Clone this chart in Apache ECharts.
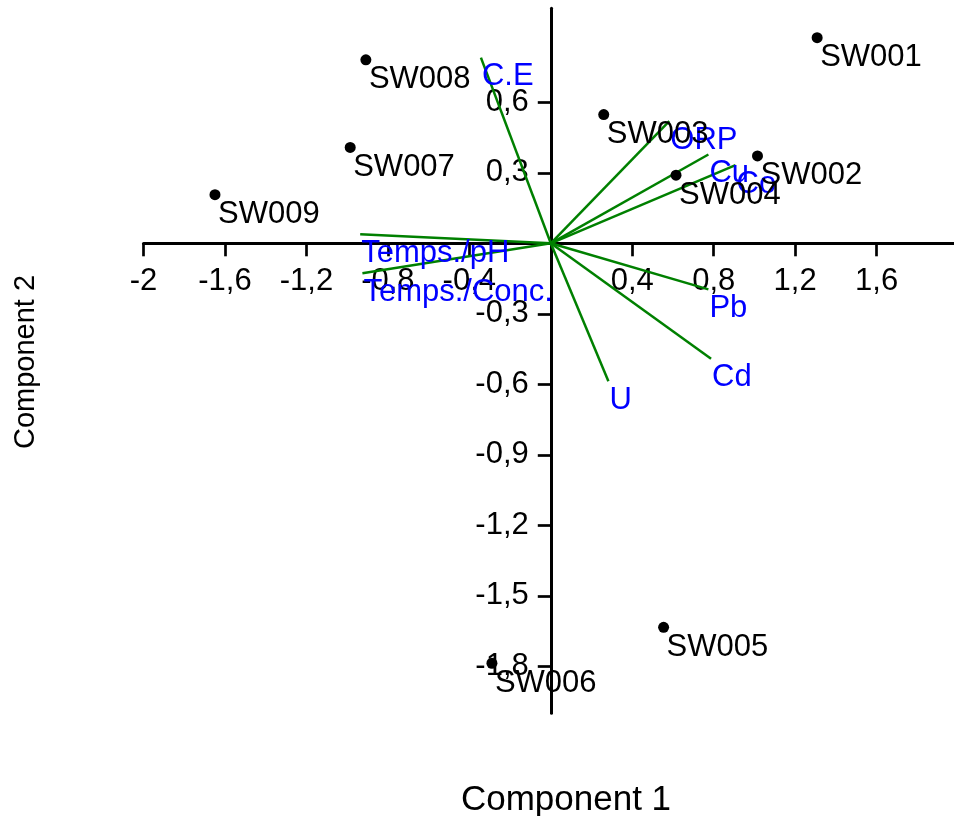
<!DOCTYPE html>
<html><head><meta charset="utf-8">
<script src="https://cdn.jsdelivr.net/npm/echarts@6.0.0/dist/echarts.min.js"></script>
<style>html,body{margin:0;padding:0;background:#fff}#c{width:954px;height:816px}</style>
</head><body><div id="c"></div>
<script>
const sampleNames = ['SW001','SW002','SW003','SW004','SW005','SW006','SW007','SW008','SW009'];
const sampleX = [1.308, 1.015, 0.260, 0.615, 0.554, -0.289, -0.985, -0.908, -1.649];
const sampleY = [0.875, 0.372, 0.548, 0.290, -1.634, -1.787, 0.408, 0.781, 0.207];
const loadingNames = ['C.E','ORP','Cu','Co','Pb','Cd','U','Temps./pH','Temps./Conc.'];
const loadingX = [-0.343, 0.582, 0.774, 0.907, 0.774, 0.787, 0.283, -0.936, -0.925];
const loadingY = [0.790, 0.520, 0.378, 0.333, -0.196, -0.491, -0.587, 0.039, -0.127];
const xTicks = [-2, -1.6, -1.2, -0.8, -0.4, 0.4, 0.8, 1.2, 1.6];
const yTicks = [-1.8, -1.5, -1.2, -0.9, -0.6, -0.3, 0.3, 0.6];
const xTitle = 'Component 1';
const yTitle = 'Component 2';

const FONT = '"Liberation Sans", Arial, sans-serif';
function fmt(v) {
  const r = Math.round(v * 10) / 10;
  return Number.isInteger(r) ? String(r) : r.toFixed(1).replace('.', ',');
}
const axisCommon = {
  type: 'value',
  splitLine: { show: false },
  axisLine: { show: true, onZero: true, lineStyle: { color: '#000', width: 3 } },
  axisTick: { show: true, length: 13, lineStyle: { color: '#000', width: 2.7 } },
  axisLabel: { show: false }
};
const tickLabelStyle = { show: true, color: '#000', fontSize: 31, fontFamily: FONT, opacity: 1 };

const chart = echarts.init(document.getElementById('c'), null, { renderer: 'canvas' });
chart.setOption({
  backgroundColor: '#fff',
  animation: false,
  grid: { left: 143.5, right: 0, top: 8.3, bottom: 102.7, containLabel: false },
  xAxis: Object.assign({}, axisCommon, {
    min: -2, max: 1.98,
    axisTick: Object.assign({}, axisCommon.axisTick, { customValues: xTicks })
  }),
  yAxis: Object.assign({}, axisCommon, {
    min: -2, max: 1,
    axisTick: Object.assign({}, axisCommon.axisTick, { customValues: yTicks })
  }),
  graphic: [
    { type: 'text', x: 566, y: 800, style: { text: xTitle, fontSize: 35, fontFamily: FONT, fill: '#000', textAlign: 'center', textVerticalAlign: 'middle' } },
    { type: 'text', x: 26, y: 362, rotation: Math.PI / 2, style: { text: yTitle, fontSize: 29, fontFamily: FONT, fill: '#000', textAlign: 'center', textVerticalAlign: 'middle' } }
  ],
  series: [
    {
      // x-axis tick labels placed at the zero-crossing axis
      type: 'scatter', silent: true, z: 2, symbolSize: 0,
      itemStyle: { color: 'rgba(0,0,0,0)', opacity: 1 },
      label: Object.assign({}, tickLabelStyle, { position: 'bottom', distance: 23, formatter: p => fmt(xTicks[p.dataIndex]) }),
      data: xTicks.map(v => [v, 0])
    },
    {
      // y-axis tick labels placed at the zero-crossing axis
      type: 'scatter', silent: true, z: 2, symbolSize: 0,
      itemStyle: { color: 'rgba(0,0,0,0)', opacity: 1 },
      label: Object.assign({}, tickLabelStyle, { position: 'left', distance: 22, formatter: p => fmt(yTicks[p.dataIndex]) }),
      data: yTicks.map(v => [0, v])
    },
    {
      type: 'lines',
      coordinateSystem: 'cartesian2d',
      silent: true,
      z: 3,
      lineStyle: { color: '#008000', width: 2.5, opacity: 1, curveness: 0 },
      data: loadingX.map((x, i) => ({ coords: [[0, 0], [x, loadingY[i]]] }))
    },
    {
      type: 'scatter',
      silent: true,
      z: 4,
      symbolSize: 2,
      itemStyle: { color: 'rgba(0,0,0,0)', opacity: 1 },
      label: {
        show: true, position: 'right', distance: 0, offset: [0, 19],
        color: '#0000FF', opacity: 1, fontSize: 31, fontFamily: FONT,
        formatter: p => loadingNames[p.dataIndex]
      },
      data: loadingX.map((x, i) => [x, loadingY[i]])
    },
    {
      type: 'scatter',
      silent: true,
      z: 5,
      symbolSize: 11,
      itemStyle: { color: '#000', opacity: 1 },
      label: {
        show: true, position: 'right', distance: 0, offset: [-2.5, 20],
        color: '#000', opacity: 1, fontSize: 31, fontFamily: FONT,
        formatter: p => sampleNames[p.dataIndex]
      },
      data: sampleX.map((x, i) => [x, sampleY[i]])
    }
  ]
});
</script>
</body></html>
